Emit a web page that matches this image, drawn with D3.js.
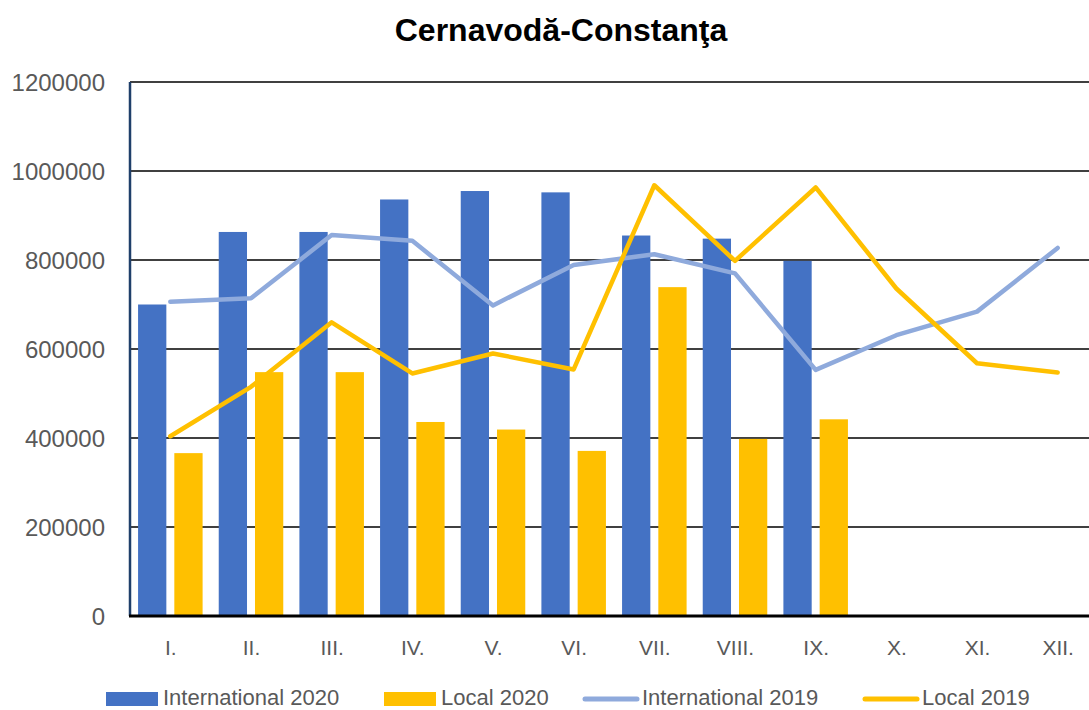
<!DOCTYPE html>
<html>
<head>
<meta charset="utf-8">
<title>Cernavodă-Constanţa</title>
<script src="https://d3js.org/d3.v7.min.js"></script>
<style>
	body { margin: 0; background: #fff; }
	svg { display: block; font-family: "Liberation Sans", Arial, sans-serif; }
</style>
</head>
<body>
<div id="chart"></div>
<script>

// data
var months = ["I.", "II.", "III.", "IV.", "V.", "VI.", "VII.", "VIII.", "IX.", "X.", "XI.", "XII."];
var int2020 = [700000, 863000, 863000, 936000, 955000, 952000, 855000, 848000, 798000, null, null, null];
var local2020 = [366000, 548000, 548000, 436000, 419000, 371000, 739000, 398000, 442000, null, null, null];
var int2019 = [706000, 714000, 856000, 843000, 698000, 789000, 813000, 770000, 553000, 631000, 684000, 827000];
var local2019 = [404000, 515000, 660000, 545000, 590000, 554000, 968000, 798000, 963000, 736000, 568000, 547000];
var yTicks = [0, 200000, 400000, 600000, 800000, 1000000, 1200000];

var W = 1089, H = 710;
// plot box (right edge runs past the window, as in the picture)
var pLeft = 130, pRight = 1098, pTop = 82, pBottom = 616;

var svg = d3.select("#chart").append("svg")
	.attr("width", W)
	.attr("height", H);

var x0 = d3.scaleBand().domain(months).range([pLeft, pRight]).paddingInner(0.2).paddingOuter(0.1);
var x1 = d3.scaleBand().domain(["int", "local"]).range([0, x0.bandwidth()]).paddingInner(0.22);
var xc = d3.scalePoint().domain(months).range([pLeft + x0.step() / 2, pRight - x0.step() / 2]);
var y = d3.scaleLinear().domain([0, 1200000]).range([pBottom, pTop]);

// title
svg.append("text")
	.attr("x", 561)
	.attr("y", 41)
	.attr("text-anchor", "middle")
	.style("font-weight", "bold")
	.style("font-size", "32px")
	.style("fill", "#000")
	.text("Cernavodă-Constanţa");

// gridlines
svg.append("g").selectAll("line")
	.data(yTicks.slice(1))
	.enter().append("line")
	.attr("x1", pLeft).attr("x2", W)
	.attr("y1", function(d){ return y(d); })
	.attr("y2", function(d){ return y(d); })
	.style("stroke", "#000")
	.style("stroke-width", 1.5);

// y axis labels
var yAxis = d3.axisLeft(y).tickValues(yTicks).tickSize(0).tickPadding(0).tickFormat(d3.format("d"));
var ya = svg.append("g").attr("transform", "translate(105,0)").call(yAxis);
ya.select(".domain").remove();
ya.selectAll("text")
	.attr("dy", "0.36em")
	.style("font-family", "'Liberation Sans', Arial, sans-serif")
	.style("font-size", "24px")
	.style("fill", "#595959");

// bars
var groups = svg.append("g").selectAll("g")
	.data(months)
	.enter().append("g")
	.attr("transform", function(d){ return "translate(" + x0(d) + ",0)"; });

groups.filter(function(d, i){ return int2020[i] != null; })
	.append("rect")
	.attr("x", x1("int"))
	.attr("width", x1.bandwidth())
	.attr("y", function(d){ return y(int2020[months.indexOf(d)]); })
	.attr("height", function(d){ return pBottom - y(int2020[months.indexOf(d)]); })
	.style("fill", "#4472C4");

groups.filter(function(d, i){ return local2020[i] != null; })
	.append("rect")
	.attr("x", x1("local"))
	.attr("width", x1.bandwidth())
	.attr("y", function(d){ return y(local2020[months.indexOf(d)]); })
	.attr("height", function(d){ return pBottom - y(local2020[months.indexOf(d)]); })
	.style("fill", "#FFC000");

// left axis and base line
svg.append("line")
	.attr("x1", pLeft).attr("x2", pLeft)
	.attr("y1", pTop).attr("y2", pBottom)
	.style("stroke", "#1F3F6A")
	.style("stroke-width", 2.5);

svg.append("line")
	.attr("x1", pLeft - 1).attr("x2", W)
	.attr("y1", pBottom).attr("y2", pBottom)
	.style("stroke", "#000")
	.style("stroke-width", 3);

// lines
var line = d3.line()
	.x(function(d, i){ return xc(months[i]); })
	.y(function(d){ return y(d); });

svg.append("path")
	.datum(int2019)
	.attr("d", line)
	.style("fill", "none")
	.style("stroke", "#8FAADC")
	.style("stroke-width", 4.5)
	.style("stroke-linecap", "round")
	.style("stroke-linejoin", "round");

svg.append("path")
	.datum(local2019)
	.attr("d", line)
	.style("fill", "none")
	.style("stroke", "#FFC000")
	.style("stroke-width", 4.5)
	.style("stroke-linecap", "round")
	.style("stroke-linejoin", "round");

// x axis labels
var xAxis = d3.axisBottom(xc).tickSize(0).tickPadding(0);
var xa = svg.append("g").attr("transform", "translate(0,655)").call(xAxis);
xa.select(".domain").remove();
xa.selectAll("text")
	.attr("dy", 0)
	.style("font-family", "'Liberation Sans', Arial, sans-serif")
	.style("font-size", "21px")
	.style("fill", "#595959");

// legend
var legend = [
	{name: "International 2020", type: "rect", color: "#4472C4", x: 106},
	{name: "Local 2020", type: "rect", color: "#FFC000", x: 384},
	{name: "International 2019", type: "line", color: "#8FAADC", x: 583},
	{name: "Local 2019", type: "line", color: "#FFC000", x: 863}
];

var lg = svg.append("g").selectAll("g")
	.data(legend)
	.enter().append("g")
	.attr("transform", function(d){ return "translate(" + d.x + ",699)"; });

lg.filter(function(d){ return d.type == "rect"; })
	.append("rect")
	.attr("x", 0).attr("y", -7)
	.attr("width", 52).attr("height", 14)
	.style("fill", function(d){ return d.color; });

lg.filter(function(d){ return d.type == "line"; })
	.append("line")
	.attr("x1", 2).attr("x2", 54)
	.attr("y1", 0).attr("y2", 0)
	.style("stroke", function(d){ return d.color; })
	.style("stroke-width", 5)
	.style("stroke-linecap", "round");

lg.append("text")
	.attr("x", function(d){ return d.type == "rect" ? 57 : 59; })
	.attr("y", 6)
	.style("font-size", "22px")
	.style("fill", "#595959")
	.text(function(d){ return d.name; });

</script>
</body>
</html>
